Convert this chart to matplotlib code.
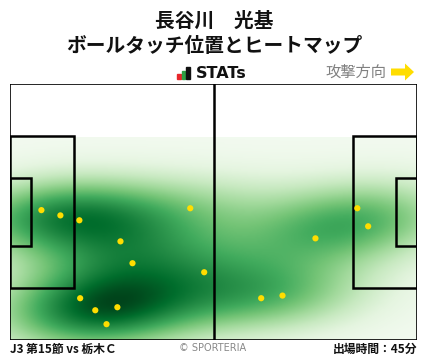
import numpy as np
import matplotlib
matplotlib.use("Agg")
import matplotlib.pyplot as plt
from matplotlib.patches import Rectangle, FancyArrow

plt.rcParams['font.family'] = ['Noto Sans CJK JP', 'DejaVu Sans']

# ---- data (pitch coords, 105 x 68, y up) ----
touch_x = [8.1, 13.0, 17.9, 28.5, 31.6, 46.5, 50.1, 18.1, 22.0, 27.7, 24.9,
           89.6, 92.4, 78.8, 64.8, 70.3]
touch_y = [34.5, 33.1, 31.8, 26.2, 20.4, 35.0, 18.0, 11.1, 7.9, 8.7, 4.2,
           35.0, 30.2, 27.0, 11.1, 11.8]

title1 = "長谷川　光基"
title2 = "ボールタッチ位置とヒートマップ"
match_label = "J3 第15節 vs 栃木Ｃ"
time_label = "出場時間：45分"

L, W = 105.0, 68.0

W_PX, H_PX = 428, 359
fig = plt.figure(figsize=(W_PX / 100, H_PX / 100), dpi=100)

def fx(px):
    return px / W_PX

def fy(py):
    return 1 - py / H_PX

ax = fig.add_axes([fx(10), fy(340), (417 - 10) / W_PX, (340 - 84) / H_PX])
ax.set_xlim(0, L)
ax.set_ylim(0, W)
ax.axis('off')

# ---- KDE (gaussian, scott factor, full covariance) ----
pts = np.vstack([touch_x, touch_y])
n = pts.shape[1]
factor = n ** (-1.0 / 6)
cov = np.cov(pts) * factor ** 2
inv = np.linalg.inv(cov)
ytop = 53.7
gx = np.linspace(0, L, 300)
gy = np.linspace(0, ytop, 160)
GX, GY = np.meshgrid(gx, gy)
dens = np.zeros_like(GX)
for i in range(n):
    dx = GX - pts[0, i]
    dy = GY - pts[1, i]
    q = inv[0, 0] * dx * dx + 2 * inv[0, 1] * dx * dy + inv[1, 1] * dy * dy
    dens += np.exp(-0.5 * q)
dens /= dens.max()
ax.imshow(dens, extent=(0, L, 0, ytop), origin='lower', cmap='Greens',
          vmin=-0.03, vmax=1.0, aspect='auto', interpolation='bicubic', zorder=1)

# ---- pitch lines ----
lc = 'black'
ax.add_patch(Rectangle((0, 0), L, W, fill=False, ec=lc, lw=1.2, zorder=3))
ax.plot([L / 2, L / 2], [0, W], color=lc, lw=1.8, zorder=3)
pb_w, pb_h = 16.5, 40.32
ga_w, ga_h = 5.5, 18.32
ax.add_patch(Rectangle((0, (W - pb_h) / 2), pb_w, pb_h, fill=False, ec=lc, lw=1.8, zorder=3))
ax.add_patch(Rectangle((L - pb_w, (W - pb_h) / 2), pb_w, pb_h, fill=False, ec=lc, lw=1.8, zorder=3))
ax.add_patch(Rectangle((0, (W - ga_h) / 2), ga_w, ga_h, fill=False, ec=lc, lw=1.8, zorder=3))
ax.add_patch(Rectangle((L - ga_w, (W - ga_h) / 2), ga_w, ga_h, fill=False, ec=lc, lw=1.8, zorder=3))

ax.scatter(touch_x, touch_y, s=20, color='#FFDD00', edgecolors='none', zorder=4)

# ---- header ----
fig.text(fx(214), fy(21), title1, ha='center', va='center', fontsize=14.2,
         fontweight='bold', color='#111111')
fig.text(fx(214), fy(46), title2, ha='center', va='center', fontsize=14.2,
         fontweight='bold', color='#111111')

# STATs logo
for xs, h, c in [(177, 5, '#e8262b'), (181.5, 8, '#2ea043'), (186, 12, '#111111')]:
    fig.patches.append(Rectangle((fx(xs), fy(79)), 3.5 / W_PX, h / H_PX,
                                 transform=fig.transFigure, color=c))
fig.text(fx(196), fy(73), "STATs", ha='left', va='center', fontsize=11.5,
         fontweight='bold', color='#111111', family='DejaVu Sans')

fig.text(fx(386), fy(72), "攻撃方向", ha='right', va='center', fontsize=11,
         color='#808080')
fig.patches.append(FancyArrow(fx(391), fy(72), 14 / W_PX, 0, width=7 / H_PX,
                              head_width=17 / H_PX, head_length=9 / W_PX,
                              length_includes_head=False, transform=fig.transFigure,
                              color='#FFDD00', lw=0))

# ---- footer ----
fig.text(fx(10), fy(349), match_label, ha='left', va='center', fontsize=8.5,
         fontweight='bold', color='#111111')
fig.text(fx(213), fy(348), "© SPORTERIA", ha='center', va='center', fontsize=7,
         color='#888888', family='DejaVu Sans')
fig.text(fx(417), fy(349), time_label, ha='right', va='center', fontsize=8.5,
         fontweight='bold', color='#111111')

fig.savefig('out.png', dpi=100, facecolor='white')
